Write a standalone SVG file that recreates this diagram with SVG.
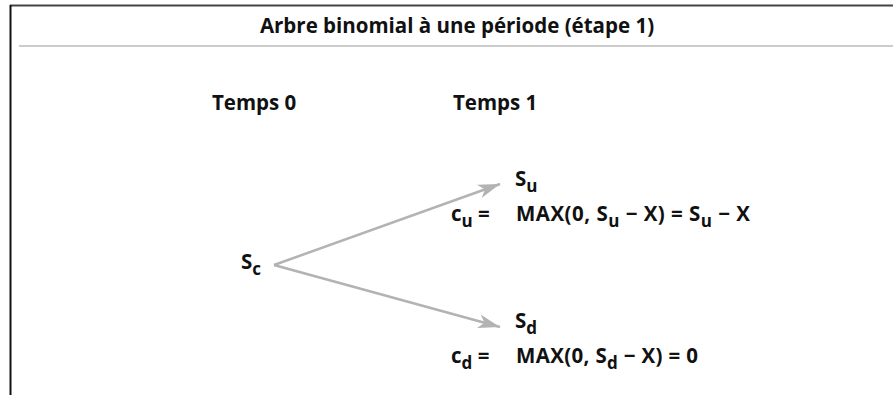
<svg xmlns="http://www.w3.org/2000/svg" width="893" height="395" viewBox="0 0 893 395">
<style>
.t{font-family:"Open Sans","Liberation Sans",Arial,sans-serif;font-weight:bold;fill:#111;}
.big{font-size:20.5px;}
.sub{font-size:17px;}
.conn{stroke:#b3b3b3;stroke-width:2.5;fill:none;}
</style>
<defs>
<marker id="ah" markerUnits="userSpaceOnUse" markerWidth="24" markerHeight="16" viewBox="0 0 24 16" refX="22" refY="8" orient="auto">
<path d="M0,1 L22,8 L0,15 L6,8 Z" fill="#b3b3b3"/>
</marker>
</defs>
<rect width="893" height="395" fill="#fff"/>
<g id="frame">
<line x1="10" y1="5.5" x2="893" y2="5.5" stroke="#444" stroke-width="2"/>
<line x1="10.5" y1="5" x2="10.5" y2="395" stroke="#111" stroke-width="2"/>
<line x1="19" y1="46" x2="893" y2="46" stroke="#cccccc" stroke-width="2"/>
</g>
<g id="title"><text class="t big" x="457" y="33" text-anchor="middle">Arbre binomial à une période (étape 1)</text></g>
<g id="temps0"><text class="t big" x="212" y="110">Temps 0</text></g>
<g id="temps1"><text class="t big" x="453" y="110">Temps 1</text></g>
<g id="connectors">
<line class="conn" x1="274" y1="265" x2="500" y2="184" marker-end="url(#ah)"/>
<line class="conn" x1="274" y1="265" x2="500" y2="327" marker-end="url(#ah)"/>
</g>
<g id="node-sc"><text class="t big" x="241" y="269">S<tspan class="sub" dy="6">c</tspan></text></g>
<g id="node-su">
<text class="t big" x="515" y="186">S<tspan class="sub" dy="6">u</tspan></text>
<text class="t big" x="451" y="221">c<tspan class="sub" dy="6">u</tspan><tspan dy="-6"> =</tspan></text>
<text class="t big" x="516" y="221" textLength="234" lengthAdjust="spacing">MAX(0, S<tspan class="sub" dy="6">u</tspan><tspan dy="-6"> − X) = S</tspan><tspan class="sub" dy="6">u</tspan><tspan dy="-6"> − X</tspan></text>
</g>
<g id="node-sd">
<text class="t big" x="515" y="328">S<tspan class="sub" dy="6">d</tspan></text>
<text class="t big" x="451" y="363">c<tspan class="sub" dy="6">d</tspan><tspan dy="-6"> =</tspan></text>
<text class="t big" x="516" y="363" textLength="182" lengthAdjust="spacing">MAX(0, S<tspan class="sub" dy="6">d</tspan><tspan dy="-6"> − X) = 0</tspan></text>
</g>
</svg>
